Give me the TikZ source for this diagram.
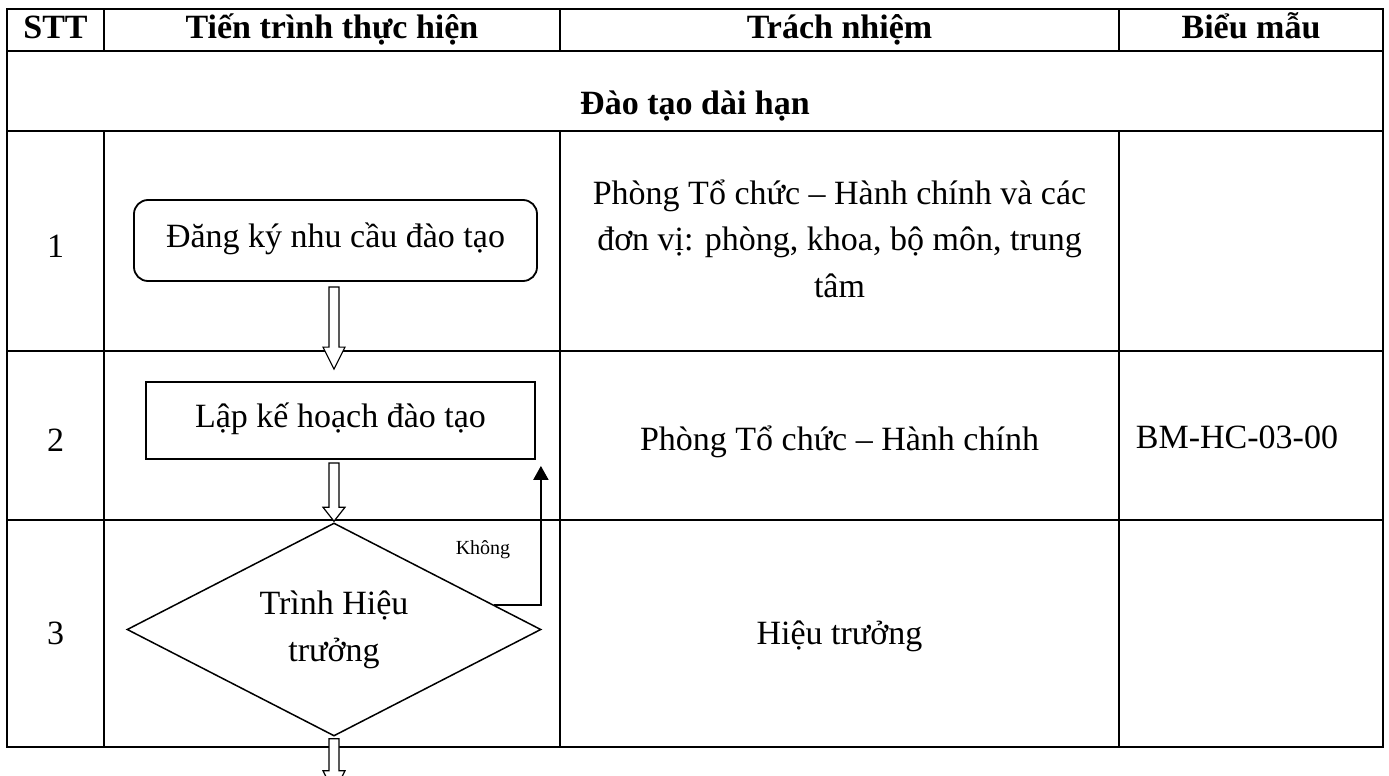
\documentclass[tikz,border=0pt]{standalone}
\usepackage{fontspec}
\setmainfont{Liberation Serif}
\usetikzlibrary{calc,shapes.geometric,arrows.meta}

% hollow block arrow: start point, tip point, head length
\newcommand{\hollowarrow}[3]{%
  \draw[hollow] let \p1=#1, \p2=#2 in
    (\x1-5pt,\y1) -- (\x1+5pt,\y1) -- (\x1+5pt,\y2+#3) -- (\x1+11pt,\y2+#3)
    -- (\x1,\y2) -- (\x1-11pt,\y2+#3) -- (\x1-5pt,\y2+#3) -- cycle;}

\begin{document}
\begin{tikzpicture}[x=1pt,y=-1pt,
  grid/.style={line width=2.9pt},
  txt/.style={font=\fontsize{34}{46.5}\selectfont, inner sep=0pt, anchor=base},
  headtxt/.style={txt, font=\fontsize{34}{46.5}\selectfont\bfseries},
  stepbox/.style={draw, line width=1.8pt, inner sep=0pt,
    font=\fontsize{34}{46.5}\selectfont, text height=23pt, text depth=9pt},
  decision/.style={draw, diamond, line width=1.5pt, inner sep=0pt,
    minimum width=414pt, minimum height=213pt, shape aspect=1.94,
    align=center, font=\fontsize{34}{47}\selectfont},
  hollow/.style={draw, line width=1.2pt, fill=white},
  loopback/.style={line width=2pt, -{Triangle[width=15pt,length=14pt]}},
  smalllabel/.style={font=\fontsize{20}{24}\selectfont, inner sep=0pt}]

\fill[white] (0,0) rectangle (1389,776);
\useasboundingbox (0,0) rectangle (1389,776);

% table frame
\draw[grid] (7,9) rectangle (1383,747);
\draw[grid] (7,51) -- (1383,51) (7,131) -- (1383,131)
            (7,351) -- (1383,351) (7,520) -- (1383,520);
\draw[grid] (104,9) -- (104,51) (560,9) -- (560,51) (1119,9) -- (1119,51);
\draw[grid] (104,131) -- (104,747) (560,131) -- (560,747) (1119,131) -- (1119,747);

% header
\node[headtxt] (hstt)  at (55.5,39)  {STT};
\node[headtxt] (hproc) at (332,39)   {Tiến trình thực hiện};
\node[headtxt] (hresp) at (839.5,39) {Trách nhiệm};
\node[headtxt] (hform) at (1251,39)  {Biểu mẫu};
\node[headtxt] (sect)  at (695,114)  {Đào tạo dài hạn};

% step numbers
\node[txt] (num1) at (55.5,257) {1};
\node[txt] (num2) at (55.5,451) {2};
\node[txt] (num3) at (55.5,644) {3};

% responsibilities and forms (base of a multi-line node is its last line)
\node[txt, align=center] (resp1) at (839.5,297)
  {Phòng Tổ chức – Hành chính và các\\đơn vị: phòng, khoa, bộ môn, trung\\tâm};
\node[txt] (resp2) at (839.5,450) {Phòng Tổ chức – Hành chính};
\node[txt] (resp3) at (839.5,644) {Hiệu trưởng};
\node[txt] (form2) at (1237,448) {BM-HC-03-00};

% process
\node[stepbox, rounded corners=14pt, minimum width=403pt, minimum height=81pt]
  (reg) at (335.5,240.5) {Đăng ký nhu cầu đào tạo};
\node[stepbox, minimum width=389pt, minimum height=77pt]
  (plan) at (340.5,420.5) {Lập kế hoạch đào tạo};
\node[decision] (dec) at (334,629.5) {Trình Hiệu\\trưởng};

\hollowarrow{($(reg.south)+(-1.5,5)$)}{($(plan.north)+(-6.5,-12)$)}{22pt}
\hollowarrow{($(plan.south)+(-6.5,3)$)}{($(dec.north)+(0,-1)$)}{14pt}
\hollowarrow{($(dec.south)+(0,2)$)}{($(dec.south)+(0,56)$)}{22pt}

\draw[loopback] ($(dec.north)!0.77!(dec.east)$) -| ($(plan.south east)+(5,6)$);
\node[smalllabel] (no) at (483,550) {Không};

\end{tikzpicture}
\end{document}
